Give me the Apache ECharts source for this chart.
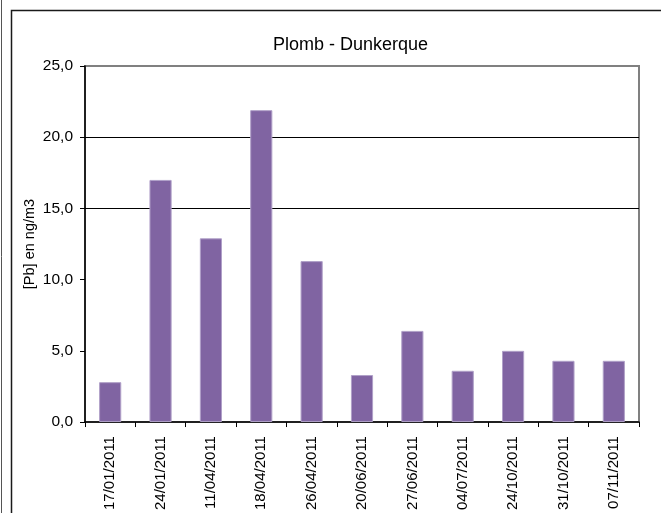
<!DOCTYPE html>
<html>
<head>
<meta charset="utf-8">
<script src="https://cdn.jsdelivr.net/npm/echarts@6/dist/echarts.min.js"></script>
<style>
  html, body { margin: 0; padding: 0; background: #fff; }
  #chart { width: 661px; height: 513px; }
</style>
</head>
<body>
<div id="chart"></div>
<script>
// Lead concentration samples, Dunkerque 2011
const dates = ['17/01/2011', '24/01/2011', '11/04/2011', '18/04/2011', '26/04/2011',
  '20/06/2011', '27/06/2011', '04/07/2011', '24/10/2011', '31/10/2011', '07/11/2011'];
const leadValues = [2.8, 17.0, 12.9, 21.9, 11.3, 3.3, 6.4, 3.6, 5.0, 4.3, 4.3];
const yTicks = [0, 5, 10, 15, 20, 25];

const font = '"Liberation Sans", Arial, sans-serif';
const chart = echarts.init(document.getElementById('chart'), null, { renderer: 'canvas' });

chart.setOption({
  backgroundColor: '#ffffff',
  animation: false,
  title: {
    text: 'Plomb - Dunkerque',
    left: 268,
    top: 31,
    textStyle: { fontFamily: font, fontSize: 18, fontWeight: 'normal', color: '#000' }
  },
  grid: {
    left: 85, right: 22, top: 66, bottom: 90,
    show: true, borderColor: '#808080', borderWidth: 2, backgroundColor: 'transparent'
  },
  xAxis: {
    type: 'category',
    data: dates,
    boundaryGap: true,
    axisLine: { lineStyle: { color: '#000', width: 1.5 } },
    axisTick: { show: true, interval: 0, length: 5, lineStyle: { color: '#000' } },
    axisLabel: { interval: 0, rotate: 90, margin: 14, fontFamily: font, fontSize: 15, color: '#000' },
    splitLine: { show: false }
  },
  yAxis: {
    type: 'value',
    min: yTicks[0],
    max: yTicks[yTicks.length - 1],
    interval: 5,
    name: '[Pb] en ng/m3',
    nameLocation: 'middle',
    nameRotate: 90,
    nameGap: 48,
    nameMoveOverlap: false,
    nameTextStyle: { fontFamily: font, fontSize: 14.5, color: '#000' },
    axisLine: { show: true, lineStyle: { color: '#000', width: 1.5 } },
    axisTick: { show: true, inside: false, length: 5, lineStyle: { color: '#000' } },
    axisLabel: {
      margin: 12, fontFamily: font, fontSize: 15.5, color: '#000',
      formatter: v => v.toFixed(1).replace('.', ',')
    },
    // only the 15 and 20 gridlines are drawn
    splitLine: {
      show: true,
      lineStyle: { width: 1.2, color: ['rgba(0,0,0,0)', 'rgba(0,0,0,0)', 'rgba(0,0,0,0)', '#000', '#000', 'rgba(0,0,0,0)'] }
    }
  },
  series: [{
    type: 'bar',
    data: leadValues,
    barWidth: '44%',
    itemStyle: { color: '#8064A2', borderColor: '#b0a0c8', borderWidth: 1 }
  }],
  graphic: [
    {
      type: 'polyline',
      shape: { points: [[11.5, 513], [11.5, 10.5], [661, 10.5]] },
      style: { stroke: '#1a1a1a', lineWidth: 1.5, fill: null },
      silent: true
    },
    {
      type: 'line',
      shape: { x1: 1.5, y1: 0, x2: 1.5, y2: 513 },
      style: { stroke: '#555', lineWidth: 1 },
      silent: true
    }
  ]
});
</script>
</body>
</html>
